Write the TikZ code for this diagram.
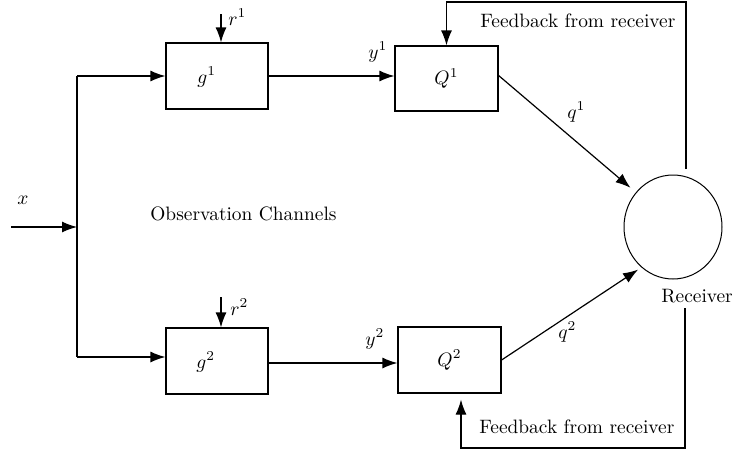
\documentclass[tikz,border=0pt]{standalone}
\usetikzlibrary{arrows.meta,shapes.geometric}
\begin{document}
\begin{tikzpicture}[x=1pt,y=-1pt,
  txt/.style={scale=1.94, inner sep=0pt},
  blk/.style={draw, line width=1.2pt, minimum width=102pt, minimum height=66pt, inner sep=0pt},
  conn/.style={line width=1.2pt},
  arr/.style={conn, -{Latex[length=15pt,width=11pt]}},
  lbl/.style={txt, anchor=base west},
]
\useasboundingbox (0,0) rectangle (732,453);
% blocks
\node[blk] (g1) at (217,76) {};
\node[lbl] (g1l) at (197,83) {$g^1$};
\node[blk] (g2) at (217,361) {};
\node[lbl] (g2l) at (196,368) {$g^2$};
\node[blk, minimum width=103pt, minimum height=65pt] (Q1) at (446.5,78.5) {};
\node[txt] (Q1l) at (Q1.center) {$Q^1$};
\node[blk, minimum width=103pt, minimum height=66pt] (Q2) at (449.5,360) {};
\node[txt] (Q2l) at (Q2.center) {$Q^2$};
\node[draw, ellipse, line width=1pt, inner sep=0pt, minimum width=98pt, minimum height=104pt] (rcv) at (673,227) {};
% texts
\node[lbl] (rl) at (661,302) {Receiver};
\node[lbl] (fb1) at (480,27) {Feedback from receiver};
\node[lbl] (fb2) at (479,433) {Feedback from receiver};
\node[lbl] (obs) at (150,220) {Observation Channels};
\node[lbl] (xl) at (17,204) {$x$};
\node[lbl] (r1l) at (228,25) {$r^1$};
\node[lbl] (r2l) at (230,315) {$r^2$};
\node[lbl] (y1l) at (368,58) {$y^1$};
\node[lbl] (y2l) at (365,345) {$y^2$};
\node[lbl] (q1l) at (567,118) {$q^1$};
\node[lbl] (q2l) at (558,338) {$q^2$};
% coordinates
\coordinate (xin) at (11,227);
\coordinate (jx) at (77,227);
\coordinate (jt) at (77,76);
\coordinate (jb) at (77,357);
\coordinate (r1s) at (221,14);
\coordinate (r2s) at (221,297);
\coordinate (f1a) at (686,169);
\coordinate (f1b) at (686,2);
\coordinate (f2a) at (685,308);
\coordinate (f2b) at (685,448);
% connectors
\draw[arr] (xin) -- (jx);
\draw[conn] (jt) -- (jb);
\draw[arr] (jt) -- (g1.west);
\draw[arr] (jb) -- (jb -| g2.west);
\draw[arr] (r1s) -- ([xshift=4pt]g1.north);
\draw[arr] (r2s) -- ([xshift=4pt]g2.north);
\draw[arr] (g1.east) -- (g1.east -| Q1.west);
\draw[arr] ([yshift=-2pt]g2.east) -- ([yshift=-2pt]g2.east -| Q2.west);
\draw[arr, shorten >=7pt] ([yshift=3pt]Q1.east) -- (rcv.137);
\draw[arr, shorten >=4pt] (Q2.east) -- (rcv.232);
\draw[arr] (f1a) -- (f1b) -| (Q1.north);
\draw[arr, shorten >=6pt] (f2a) -- (f2b) -| ([xshift=11.5pt]Q2.south);
\end{tikzpicture}
\end{document}
